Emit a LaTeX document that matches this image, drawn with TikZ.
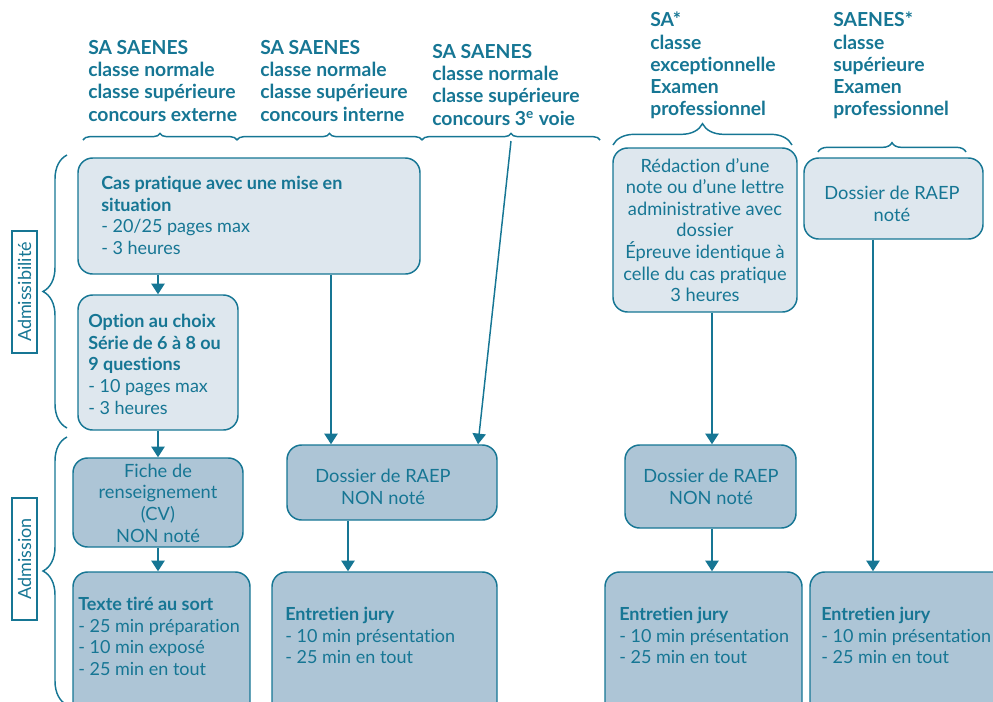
\documentclass[tikz,border=0pt]{standalone}
\usepackage{fontspec}
\setmainfont{Lato}[Ligatures={NoCommon}]
\usetikzlibrary{arrows.meta,decorations.pathreplacing,fit}
\definecolor{teal1}{RGB}{22,118,148}
\definecolor{lightfill}{HTML}{DEE7EE}
\definecolor{darkfill}{HTML}{ADC5D6}
\begin{document}
\begin{tikzpicture}[x=0.75pt,y=-0.75pt,
  every node/.style={text=teal1},
  tx/.style={inner sep=0pt, align=left, font=\fontsize{13.5}{16.2}\selectfont},
  txc/.style={inner sep=0pt, align=center, font=\fontsize{13.7}{16.2}\selectfont},
  hdr/.style={inner sep=0pt, align=left, anchor=north west, font=\fontsize{14.5}{16.7}\selectfont\bfseries},
  boxbase/.style={draw=teal1, line width=1.1pt, rounded corners=11pt, inner sep=0pt},
  boxL/.style={boxbase, fill=lightfill},
  boxD/.style={boxbase, fill=darkfill},
  arr/.style={draw=teal1, line width=1.1pt, -{Triangle[width=10pt,length=8pt]}},
  brc/.style={draw=teal1, line width=1.1pt, decorate, decoration={brace, amplitude=#1}},
  lbl/.style={draw=teal1, line width=1pt, rotate=90, inner sep=0pt, minimum width=91.5pt, minimum height=18.75pt, font=\fontsize{13.5}{16}\selectfont}
]
\useasboundingbox (0,0) rectangle (993,701);
\clip (0,0) rectangle (993,701);

% headers
\node[hdr] (h1) at (88,40) {SA SAENES\\classe normale\\classe supérieure\\concours externe};
\node[hdr] (h2) at (260,40) {SA SAENES\\classe normale\\classe supérieure\\concours interne};
\node[hdr] (h3) at (432,44) {SA SAENES\\classe normale\\classe supérieure\\concours 3\textsuperscript{e} voie};
\node[hdr] (h4) at (650,12) {SA*\\classe\\exceptionnelle\\Examen\\professionnel};
\node[hdr] (h5) at (833,12) {SAENES*\\classe\\supérieure\\Examen\\professionnel};

% header braces
\draw[brc=5pt] (83,140) -- (237,140);
\draw[brc=5pt] (237,140) -- (422,140);
\draw[brc=5pt] (422,140) -- (600,140);
\draw[brc=16pt] (613,145) -- (792,145);
\draw[brc=7pt] (818,152) -- (966,152);

% left braces and labels
\draw[brc=18pt] (67,428) -- (67,155);
\draw[brc=18pt] (67,705) -- (67,437);
\node[lbl] (l1) at (24.5,292) {Admissibilité};
\node[lbl] (l2) at (24.5,559) {Admission};

% boxes
\node[boxL, fit={(78,158)(420,274)}] (A) {};
\node[boxL, fit={(78,295)(238,430)}] (B) {};
\node[boxD, fit={(73,458)(243,547)}] (C) {};
\node[boxD, fit={(73,572)(250,760)}] (D) {};
\node[boxD, fit={(287,445)(497,520)}] (E) {};
\node[boxD, fit={(272,572)(497,760)}] (F) {};
\node[boxL, fit={(613,148)(797,312)}] (G) {};
\node[boxD, fit={(625,445)(796,528)}] (H) {};
\node[boxD, fit={(605,572)(802,760)}] (I) {};
\node[boxL, fit={(804,158)(983,239)}] (J) {};
\node[boxD, fit={(810,572)(1020,760)}] (K) {};

% texts
\node[tx, anchor=north west] (tA) at (101,176) {\textbf{Cas pratique avec une mise en}\\\textbf{situation}\\- 20/25 pages max\\- 3 heures};
\node[tx, anchor=north west] (tB) at (88,314) {\textbf{Option au choix}\\\textbf{Série de 6 à 8 ou}\\\textbf{9 questions}\\- 10 pages max\\- 3 heures};
\node[txc] (tC) at (158,503) {Fiche de\\renseignement\\(CV)\\NON noté};
\node[tx, anchor=north west] (tD) at (78,597) {\textbf{Texte tiré au sort}\\- 25 min préparation\\- 10 min exposé\\- 25 min en tout};
\node[txc] (tE) at (383,487) {Dossier de RAEP\\NON noté};
\node[tx, anchor=north west] (tF) at (285,607) {\textbf{Entretien jury}\\- 10 min présentation\\- 25 min en tout};
\node[txc] (tG) at (705,230) {Rédaction d’une\\note ou d’une lettre\\administrative avec\\dossier\\Épreuve identique à\\celle du cas pratique\\3 heures};
\node[txc] (tH) at (711,487) {Dossier de RAEP\\NON noté};
\node[tx, anchor=north west] (tI) at (619,607) {\textbf{Entretien jury}\\- 10 min présentation\\- 25 min en tout};
\node[txc] (tJ) at (892,204) {Dossier de RAEP\\noté};
\node[tx, anchor=north west] (tK) at (821,607) {\textbf{Entretien jury}\\- 10 min présentation\\- 25 min en tout};

% arrow columns
\coordinate (x1) at (158,0);
\coordinate (x2) at (331,0);
\coordinate (x3) at (478,0);
\coordinate (x4) at (348,0);
\coordinate (x5) at (712,0);
\coordinate (x6) at (873,0);
\coordinate (t3) at (511,141);

\draw[arr] (x1 |- A.south) -- (x1 |- B.north);
\draw[arr] (x1 |- B.south) -- (x1 |- C.north);
\draw[arr] (x1 |- C.south) -- (x1 |- D.north);
\draw[arr] (x2 |- A.south) -- (x2 |- E.north);
\draw[arr] (t3) -- (x3 |- E.north);
\draw[arr] (x4 |- E.south) -- (x4 |- F.north);
\draw[arr] (x5 |- G.south) -- (x5 |- H.north);
\draw[arr] (x5 |- H.south) -- (x5 |- I.north);
\draw[arr] (x6 |- J.south) -- (x6 |- K.north);
\end{tikzpicture}
\end{document}
